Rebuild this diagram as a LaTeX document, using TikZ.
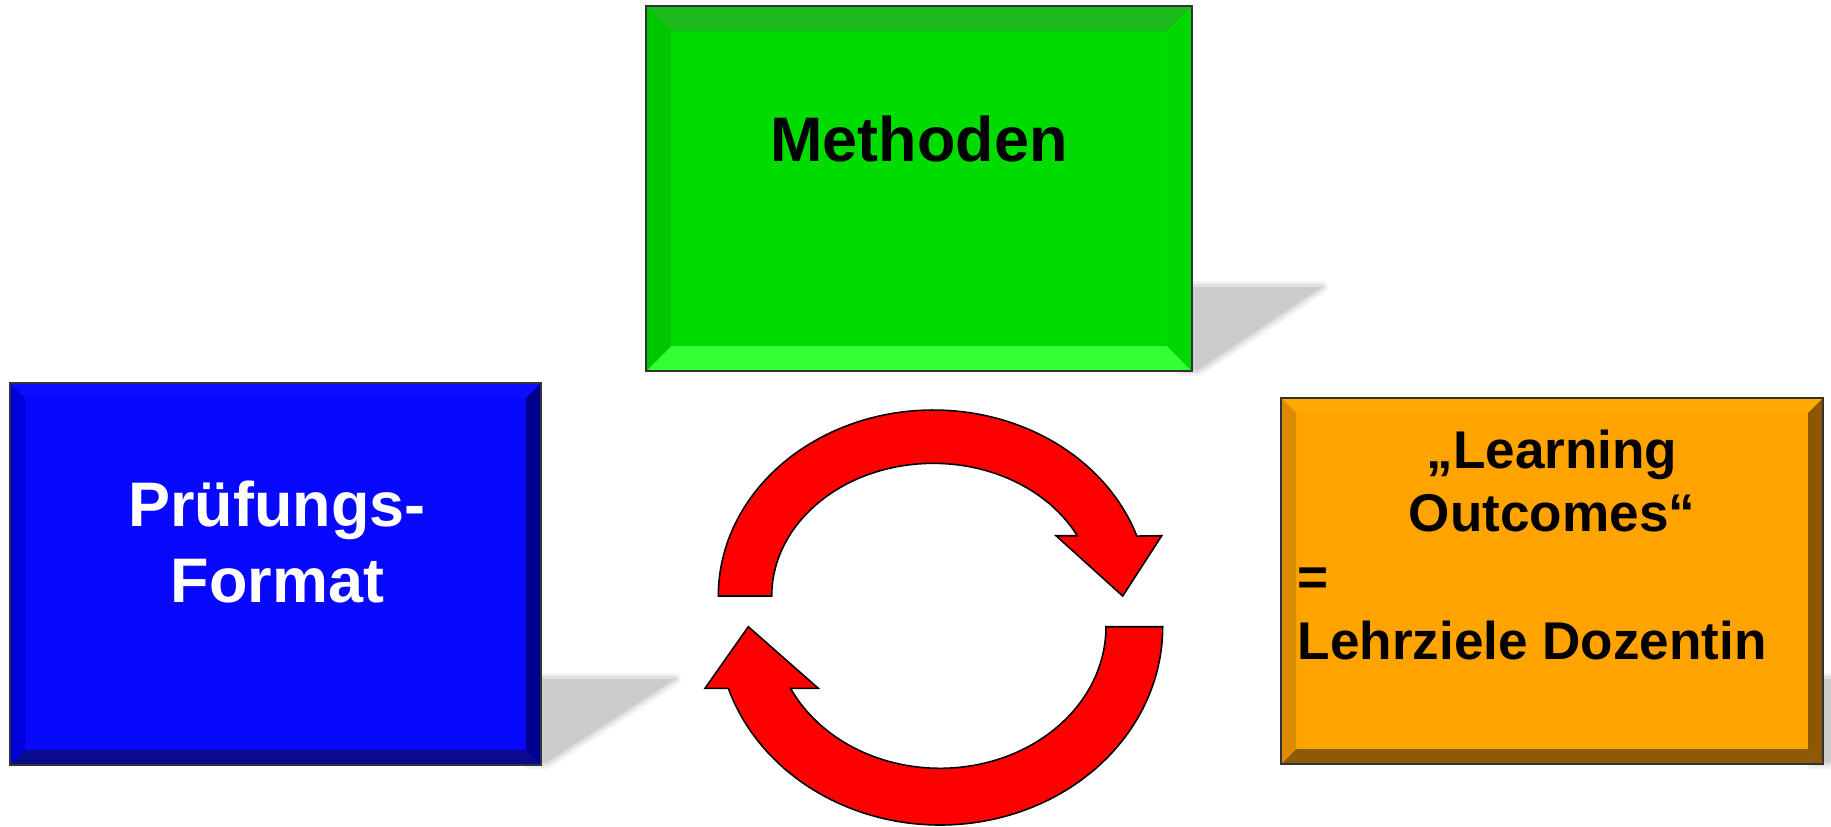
\documentclass[tikz,border=0pt]{standalone}
\usepackage{fontspec}
\setmainfont{Liberation Sans}
\definecolor{grFace}{HTML}{00DC00}
\definecolor{grTop}{HTML}{1DBA1D}
\definecolor{grLeft}{HTML}{00C600}
\definecolor{grRight}{HTML}{00D600}
\definecolor{grBot}{HTML}{33FF33}
\definecolor{blFace}{HTML}{0808FF}
\definecolor{blTop}{HTML}{0C0CFF}
\definecolor{blLeft}{HTML}{0000D8}
\definecolor{blRight}{HTML}{00008E}
\definecolor{blBot}{HTML}{0A0A8C}
\definecolor{orFace}{HTML}{FFA300}
\definecolor{orTop}{HTML}{FFAA00}
\definecolor{orLeft}{HTML}{DC8A00}
\definecolor{orRight}{HTML}{8C5700}
\definecolor{orBot}{HTML}{8D5A08}
\definecolor{shad}{HTML}{CCCCCC}
\definecolor{arrRed}{HTML}{FF0000}
\definecolor{frameCol}{HTML}{333333}
\tikzset{
  boxframe/.style={draw=frameCol, line width=0.6pt, rectangle, inner sep=0pt, outer sep=0pt, fill=none},
  lbl/.style={inner sep=0pt, font=\fontsize{17.9pt}{21pt}\selectfont\bfseries},
  lblsm/.style={inner sep=0pt, font=\fontsize{15.1pt}{18pt}\selectfont\bfseries},
  redarrow/.style={fill=arrRed, draw=black, line width=0.45pt, line join=miter},
}
% #1 name, #2 x1, #3 y1, #4 x2, #5 y2, #6 bevel, #7 colour prefix
\newcommand\bvbox[7]{%
  \fill[#7Face] (#2,#3) rectangle (#4,#5);
  \fill[#7Top] (#2,#3) -- (#4,#3) -- ({#4-#6},{#3+#6}) -- ({#2+#6},{#3+#6}) -- cycle;
  \fill[#7Bot] (#2,#5) -- (#4,#5) -- ({#4-#6},{#5-#6}) -- ({#2+#6},{#5-#6}) -- cycle;
  \fill[#7Left] (#2,#3) -- ({#2+#6},{#3+#6}) -- ({#2+#6},{#5-#6}) -- (#2,#5) -- cycle;
  \fill[#7Right] (#4,#3) -- ({#4-#6},{#3+#6}) -- ({#4-#6},{#5-#6}) -- (#4,#5) -- cycle;
  \node[boxframe, minimum width={(#4-#2)*0.01cm}, minimum height={(#5-#3)*0.01cm}] (#1) at ({(#2+#4)/2},{(#3+#5)/2}) {};
}
% soft shadow polygon: #1 x0 (box edge), #2 ytop, #3 xtip, #4 ybottom, #5 xbottom
\newcommand\softshadow[5]{%
  \draw[shad, opacity=0.25, line width=0.12cm, line join=round] (#1,#2) -- (#3,#2) -- (#5,#4) -- (#1,#4) -- cycle;
  \draw[shad, opacity=0.45, line width=0.06cm, line join=round] (#1,#2) -- (#3,#2) -- (#5,#4) -- (#1,#4) -- cycle;
  \fill[shad] (#1,#2) -- (#3,#2) -- (#5,#4) -- (#1,#4) -- cycle;
}
\begin{document}
\begin{tikzpicture}[x=0.01cm, y=-0.01cm]
\useasboundingbox (0,0) rectangle (1831,826);
\fill[white] (0,0) rectangle (1831,826);
\begin{scope}
\clip (0,0) rectangle (1831,826);
% shadows
\softshadow{1180}{287}{1322}{370}{1198}
\softshadow{530}{679}{675}{763}{546}
\softshadow{1812}{679}{1958}{763}{1828}
% boxes
\bvbox{meth}{646}{6}{1192}{371}{25}{gr}
\bvbox{pruef}{10}{383}{541}{765}{15}{bl}
\bvbox{lo}{1281}{398}{1823}{764}{15}{or}
% texts
\node[lbl, anchor=base] (methtxt) at (919,161.7) {Methoden};
\node[lbl, text=white, anchor=base] (pruef1) at (277,526.7) {Prüfungs-};
\node[lbl, text=white, anchor=base] (pruef2) at (277.5,602.3) {Format};
\node[lblsm, anchor=base] (lo1) at (1552,468.3) {„Learning};
\node[lblsm, anchor=base] (lo2) at (1552,531) {Outcomes“};
\node[lblsm, anchor=base west] (lo3) at (1297,595) {=};
\node[lblsm, anchor=base west] (lo4) at (1297,659.3) {Lehrziele Dozentin};
% cycle arrows
\draw[redarrow] (771.7,596) -- (718.3,596)
  -- plot[domain=180:341.2, samples=100, variable=\t] ({933.3+215*cos(\t)},{596+186*sin(\t)})
  -- (1161.7,535.7) -- (1122.7,596) -- (1056,535.7)
  -- plot[domain=333:180, samples=100, variable=\t] ({933.3+161.6*cos(\t)},{596+132.7*sin(\t)})
  -- cycle;
\draw[redarrow] (1106,626.7) -- (1162.7,626.7)
  -- plot[domain=0:161.9, samples=100, variable=\t] ({940+222.7*cos(\t)},{626.7+198.3*sin(\t)})
  -- (705,688.3) -- (748.3,626.7) -- (818.3,688.3)
  -- plot[domain=154.2:0, samples=100, variable=\t] ({940+166*cos(\t)},{626.7+141.6*sin(\t)})
  -- cycle;
\end{scope}
\end{tikzpicture}
\end{document}
